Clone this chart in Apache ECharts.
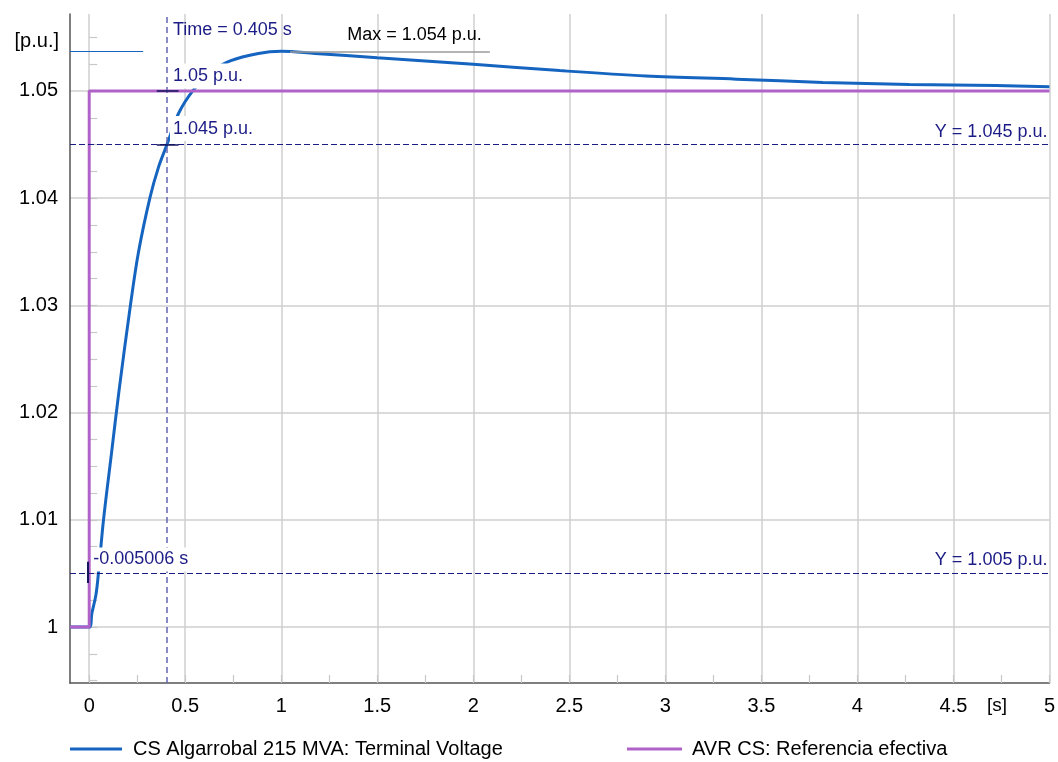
<!DOCTYPE html>
<html>
<head>
<meta charset="utf-8">
<script src="https://cdn.jsdelivr.net/npm/echarts@6/dist/echarts.min.js"></script>
<style>
  html, body { margin: 0; padding: 0; background: #fff; }
  #chart { width: 1058px; height: 762px; }
</style>
</head>
<body>
<div id="chart"></div>
<script>
// ---- data ----
const seriesNames = ['CS Algarrobal 215 MVA: Terminal Voltage', 'AVR CS: Referencia efectiva'];

const voltageTime  = [-0.1, 0, 0.014, 0.035, 0.048, 0.0745, 0.116, 0.155, 0.213, 0.257, 0.317, 0.361, 0.405, 0.465, 0.543, 0.63, 0.734, 0.881, 1.0, 1.176, 1.5, 2.0, 2.45, 2.9, 3.37, 3.82, 4.27, 4.72, 5.0];
const voltageValue = [1.0, 1.0, 1.0013, 1.0030, 1.005, 1.0100, 1.0162, 1.0220, 1.0298, 1.0350, 1.0401, 1.0429, 1.0450, 1.0479, 1.0501, 1.0517, 1.0528, 1.0535, 1.0537, 1.0535, 1.0531, 1.0525, 1.0519, 1.0514, 1.0511, 1.0508, 1.0506, 1.0505, 1.0504];

const refTime  = [-0.1, 0, 0, 5.0];
const refValue = [1.0, 1.0, 1.05, 1.05];

const xTickLabels = [0, 0.5, 1, 1.5, 2, 2.5, 3, 3.5, 4, 4.5, 5];
const xMinorTicks = [0, 0.25, 0.5, 0.75, 1, 1.25, 1.5, 1.75, 2, 2.25, 2.5, 2.75, 3, 3.25, 3.5, 3.75, 4, 4.25, 4.5, 4.75, 5];
const yTickLabels = [1, 1.01, 1.02, 1.03, 1.04, 1.05];
const yMinorTicks = [0.995, 0.9975, 1.0, 1.0025, 1.005, 1.0075, 1.01, 1.0125, 1.015, 1.0175, 1.02, 1.0225, 1.025, 1.0275, 1.03, 1.0325, 1.035, 1.0375, 1.04, 1.0425, 1.045, 1.0475, 1.05, 1.0525, 1.055];

const xRange = [-0.1, 5.0];
const yRange = [0.99478, 1.05718];

// annotation values
const cursorTime = 0.405;
const cursorLevels = [1.05, 1.045];
const yLevels = [1.045, 1.005];
const crossTime = -0.005006;
const crossSpan = [1.0041, 1.0061];
const maxValue = 1.0537;
const maxLineSpan = [1.046, 2.086];
const refMarkSpan = [-0.1, 0.281];
const cursorTickSpan = [0.352, 0.465];

// ---- chart ----
const FONT = '"Liberation Sans", Arial, sans-serif';
const NAVY = '#1c1c86';
const BLUE = '#1565c0';
const PURPLE = '#b062c8';

function zip(a, b) { return a.map((v, i) => [v, b[i]]); }
function fmt(v) { return String(+(+v).toFixed(4)); }

const chart = echarts.init(document.getElementById('chart'), null, { renderer: 'canvas' });

const labelStyle = (text, pos, opts) => Object.assign({
  show: true, formatter: text, position: pos, align: 'left', verticalAlign: 'middle',
  color: NAVY, fontSize: 18, fontFamily: FONT
}, opts || {});

const option = {
  animation: false,
  backgroundColor: '#fff',
  grid: { left: 70, right: 8, top: 14, bottom: 79, containLabel: false },
  xAxis: [
    {
      type: 'value', min: xRange[0], max: xRange[1],
      axisLine: { show: true, onZero: false, lineStyle: { color: '#555', width: 1.5 } },
      axisTick: { show: false, customValues: xTickLabels },
      axisLabel: { customValues: xTickLabels, formatter: fmt, color: '#000', fontSize: 20, fontFamily: FONT, margin: 13 },
      splitLine: { show: true, lineStyle: { color: '#cfcfcf', width: 1.5 } }
    },
    {
      type: 'value', min: xRange[0], max: xRange[1], position: 'bottom',
      axisLine: { show: false },
      axisTick: { show: true, inside: true, length: 8, customValues: xMinorTicks, lineStyle: { color: '#c8c8c8', width: 1.2 } },
      axisLabel: { show: false },
      splitLine: { show: false }
    }
  ],
  yAxis: [
    {
      type: 'value', min: yRange[0], max: yRange[1],
      axisLine: { show: true, onZero: false, lineStyle: { color: '#555', width: 1.5 } },
      axisTick: { show: false, customValues: yTickLabels },
      axisLabel: { customValues: yTickLabels, formatter: fmt, color: '#000', fontSize: 20, fontFamily: FONT, margin: 12 },
      splitLine: { show: true, lineStyle: { color: '#cfcfcf', width: 1.5 } }
    },
    {
      type: 'value', min: yRange[0], max: yRange[1], position: 'left',
      axisLine: { show: false },
      axisTick: { show: true, inside: true, length: 8, customValues: yMinorTicks, lineStyle: { color: '#c8c8c8', width: 1.2 } },
      axisLabel: { show: false },
      splitLine: { show: false }
    }
  ],
  legend: [
    {
      data: [seriesNames[0]], left: 70, top: 739, padding: 0, icon: 'rect', itemWidth: 52, itemHeight: 3,
      textStyle: { color: '#000', fontSize: 20, fontFamily: FONT, padding: [0, 0, 0, 6] }
    },
    {
      data: [seriesNames[1]], left: 627, top: 739, padding: 0, icon: 'rect', itemWidth: 55, itemHeight: 3,
      textStyle: { color: '#000', fontSize: 20, fontFamily: FONT, padding: [0, 0, 0, 5] }
    }
  ],
  graphic: [
    { type: 'text', x: 59, y: 41, style: { text: '[p.u.]', fill: '#000', font: '20px ' + FONT, textAlign: 'right', textVerticalAlign: 'middle' } },
    { type: 'text', x: 997, y: 706, style: { text: '[s]', fill: '#000', font: '19px ' + FONT, textAlign: 'center', textVerticalAlign: 'middle' } }
  ],
  series: [
    {
      name: seriesNames[0], type: 'line', z: 2,
      data: zip(voltageTime, voltageValue),
      showSymbol: false, symbol: 'none', smooth: 0.35,
      lineStyle: { color: BLUE, width: 3 }, itemStyle: { color: BLUE }
    },
    {
      name: seriesNames[1], type: 'line', z: 3,
      data: zip(refTime, refValue),
      showSymbol: false, symbol: 'none',
      lineStyle: { color: PURPLE, width: 3 }, itemStyle: { color: PURPLE }
    },
    {
      name: 'annotations', type: 'line', z: 5, data: [],
      markLine: {
        silent: true, symbol: ['none', 'none'], animation: false, precision: 6,
        data: [
          { xAxis: cursorTime, lineStyle: { color: '#6464b4', type: [6, 4], width: 1.5 }, label: { show: false } },
          { yAxis: yLevels[0], lineStyle: { color: NAVY, type: [6, 3], width: 1.2 },
            label: { show: true, position: 'insideEndTop', formatter: 'Y = ' + yLevels[0] + ' p.u.', color: NAVY, fontSize: 18, fontFamily: FONT, distance: [2, 4] } },
          { yAxis: yLevels[1], lineStyle: { color: NAVY, type: [6, 3], width: 1.2 },
            label: { show: true, position: 'insideEndTop', formatter: 'Y = ' + yLevels[1] + ' p.u.', color: NAVY, fontSize: 18, fontFamily: FONT, distance: [2, 4] } },
          [ { coord: [cursorTickSpan[0], cursorLevels[0]], lineStyle: { color: '#15155e', width: 1.5, type: 'solid' }, label: { show: false } },
            { coord: [cursorTickSpan[1], cursorLevels[0]] } ],
          [ { coord: [cursorTickSpan[0], cursorLevels[1]], lineStyle: { color: '#15155e', width: 1.5, type: 'solid' }, label: { show: false } },
            { coord: [cursorTickSpan[1], cursorLevels[1]] } ],
          [ { coord: [crossTime, crossSpan[0]], lineStyle: { color: '#15155e', width: 2, type: 'solid' }, label: { show: false } },
            { coord: [crossTime, crossSpan[1]] } ],
          [ { coord: [maxLineSpan[0], maxValue], lineStyle: { color: '#9a9a9a', width: 1.5, type: 'solid' }, label: { show: false } },
            { coord: [maxLineSpan[1], maxValue] } ],
          [ { coord: [refMarkSpan[0], maxValue], lineStyle: { color: BLUE, width: 1, type: 'solid' }, label: { show: false } },
            { coord: [refMarkSpan[1], maxValue] } ]
        ]
      },
      markPoint: {
        silent: true, animation: false, symbol: 'circle', symbolSize: 0,
        data: [
          { coord: [cursorTime, yRange[1]], label: labelStyle('Time = ' + cursorTime + ' s', [6, 16]) },
          { coord: [cursorTime, cursorLevels[0]], label: labelStyle(cursorLevels[0] + ' p.u.', [3, -15], { backgroundColor: '#fff', padding: [4, 5, 3, 3] }) },
          { coord: [cursorTime, cursorLevels[1]], label: labelStyle(cursorLevels[1] + ' p.u.', [3, -16], { backgroundColor: '#fff', padding: [4, 5, 3, 3] }) },
          { coord: [crossTime, yLevels[1]], label: labelStyle(crossTime + ' s', [3, -14], { backgroundColor: '#fff', padding: [3, 2, 3, 2] }) },
          { coord: [maxLineSpan[1], maxValue], label: labelStyle('Max = ' + (Math.round(maxValue * 1000) / 1000) + ' p.u.', [-8, -16], { align: 'right', color: '#000' }) }
        ]
      }
    }
  ]
};

chart.setOption(option);
</script>
</body>
</html>
